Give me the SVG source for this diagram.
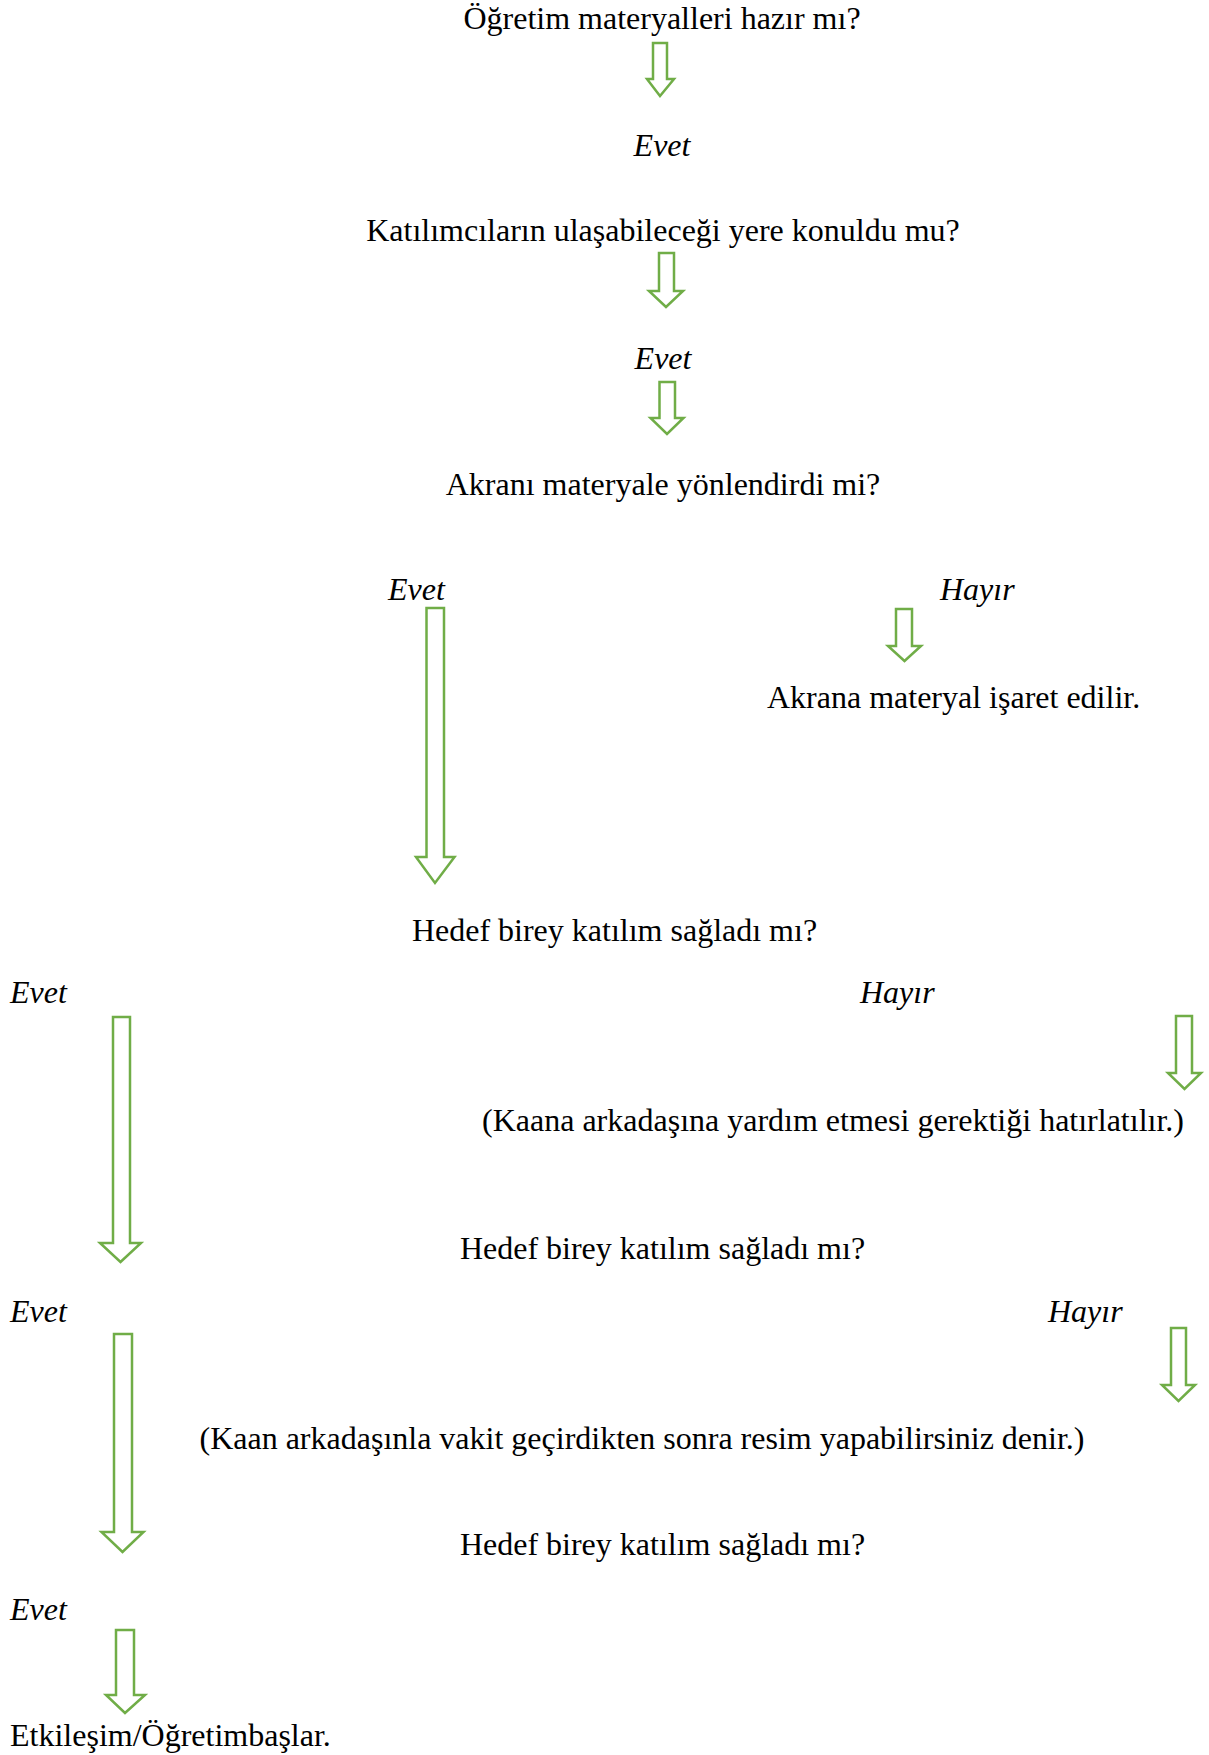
<svg xmlns="http://www.w3.org/2000/svg" width="1209" height="1755" viewBox="0 0 1209 1755">
<style>
.t{font-family:"Liberation Serif","Times New Roman",serif;font-size:32px;fill:#000}
.i{font-style:italic}
.c{text-anchor:middle}
.a{fill:#fff;stroke:#70AD47;stroke-width:2.5;stroke-linejoin:miter}
</style>
<rect width="1209" height="1755" fill="#fff"/>
<g id="connectors">
<polygon class="a" points="653,43 667,43 667,79 674,79 660,96 647,79 653,79"/>
<polygon class="a" points="659,253 674,253 674,291 683,291 666,307 649,291 659,291"/>
<polygon class="a" points="659.5,382 675,382 675,418 683.5,418 667,434 650.5,418 659.5,418"/>
<polygon class="a" points="426.5,608 444,608 444,857 454.5,857 435,883 416,857 426.5,857"/>
<polygon class="a" points="896,609 912,609 912,646 921,646 904.5,661 888,646 896,646"/>
<polygon class="a" points="113,1017 130,1017 130,1243 141,1243 120.5,1262 100,1243 113,1243"/>
<polygon class="a" points="1176,1016 1192,1016 1192,1073 1201,1073 1184.5,1089 1168,1073 1176,1073"/>
<polygon class="a" points="114,1334 132,1334 132,1532 143.5,1532 122.5,1552 101.5,1532 114,1532"/>
<polygon class="a" points="1171,1328 1186,1328 1186,1385 1195,1385 1178.5,1401 1162,1385 1171,1385"/>
<polygon class="a" points="116,1630 134,1630 134,1695 145,1695 125,1713 106,1695 116,1695"/>
</g>
<g id="n1"><text class="t c" x="662" y="29">Öğretim materyalleri hazır mı?</text></g>
<g id="n2"><text class="t i c" x="662" y="156">Evet</text></g>
<g id="n3"><text class="t c" x="663" y="241">Katılımcıların ulaşabileceği yere konuldu mu?</text></g>
<g id="n4"><text class="t i c" x="663" y="369">Evet</text></g>
<g id="n5"><text class="t c" x="663" y="495">Akranı materyale yönlendirdi mi?</text></g>
<g id="n6"><text class="t i" x="388" y="600">Evet</text></g>
<g id="n7"><text class="t i" x="940" y="600">Hayır</text></g>
<g id="n8"><text class="t" x="767" y="708">Akrana materyal işaret edilir.</text></g>
<g id="n9"><text class="t c" x="614.5" y="941">Hedef birey katılım sağladı mı?</text></g>
<g id="n10"><text class="t i" x="10" y="1003">Evet</text></g>
<g id="n11"><text class="t i" x="860" y="1003">Hayır</text></g>
<g id="n12"><text class="t c" x="833" y="1131">(Kaana arkadaşına yardım etmesi gerektiği hatırlatılır.)</text></g>
<g id="n13"><text class="t c" x="662.5" y="1259">Hedef birey katılım sağladı mı?</text></g>
<g id="n14"><text class="t i" x="10" y="1322">Evet</text></g>
<g id="n15"><text class="t i" x="1048" y="1322">Hayır</text></g>
<g id="n16"><text class="t c" x="642" y="1449">(Kaan arkadaşınla vakit geçirdikten sonra resim yapabilirsiniz denir.)</text></g>
<g id="n17"><text class="t c" x="662.5" y="1555">Hedef birey katılım sağladı mı?</text></g>
<g id="n18"><text class="t i" x="10" y="1620">Evet</text></g>
<g id="n19"><text class="t" x="10" y="1746">Etkileşim/Öğretimbaşlar.</text></g>
</svg>
